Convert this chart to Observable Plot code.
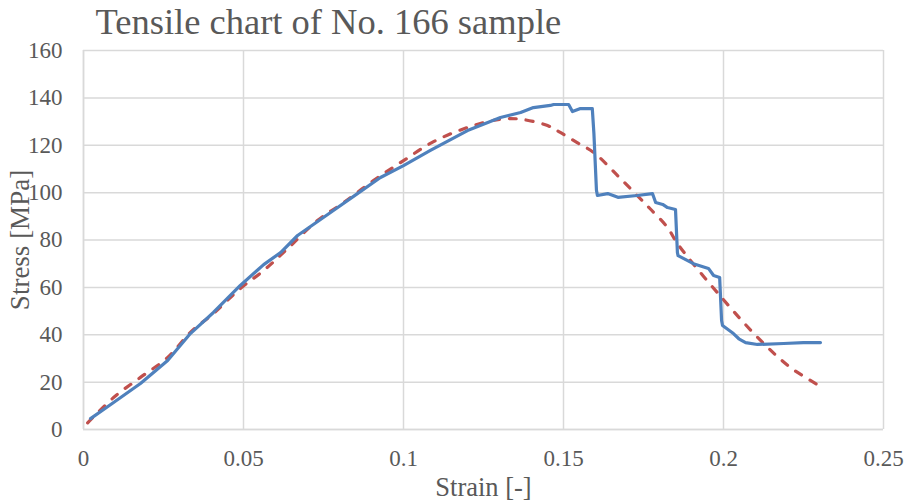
<!DOCTYPE html>
<html>
<head>
<meta charset="utf-8">
<script src="https://cdn.jsdelivr.net/npm/d3@7"></script>
<script src="https://cdn.jsdelivr.net/npm/@observablehq/plot@0.6"></script>
<style>
  html, body { margin: 0; padding: 0; background: #fff; }
</style>
</head>
<body>
<div id="chart"></div>
<script>
const titleText = "Tensile chart of No. 166 sample";
const xLabel = "Strain [-]";
const yLabel = "Stress [MPa]";
const xTicks = [0, 0.05, 0.1, 0.15, 0.2, 0.25];
const xTickLabels = ["0", "0.05", "0.1", "0.15", "0.2", "0.25"];
const yTicks = [0, 20, 40, 60, 80, 100, 120, 140, 160];

// measured curve (blue)
const measuredStrain = [0.0022, 0.0094, 0.0178, 0.0263, 0.0334, 0.0406, 0.049, 0.0563, 0.0616, 0.0669, 0.0772, 0.0856, 0.0928, 0.1, 0.1084, 0.12, 0.1303, 0.1366, 0.1406, 0.1459, 0.1469, 0.1516, 0.1528, 0.1553, 0.159, 0.1595, 0.1603, 0.1606, 0.1638, 0.167, 0.173, 0.1778, 0.1788, 0.181, 0.1825, 0.185, 0.1856, 0.1858, 0.1906, 0.1953, 0.1969, 0.1988, 0.1994, 0.1997, 0.2031, 0.2048, 0.2069, 0.2106, 0.2188, 0.225, 0.2303];
const measuredStress = [4.6, 11.4, 19.4, 29.1, 40.5, 49.4, 60.8, 69.6, 74.7, 81.9, 91.6, 99.6, 106.4, 111.4, 117.8, 126.2, 131.7, 133.8, 135.9, 136.8, 137.2, 137.2, 134.2, 135.5, 135.5, 125, 101, 98.8, 99.6, 98, 98.8, 99.6, 95.8, 95, 93.7, 92.9, 74.7, 73.4, 70, 68, 65, 64.2, 46, 43.9, 40.5, 38.3, 36.7, 35.9, 36.3, 36.7, 36.7];

// fitted trend (red dashed)
const fitStrain = [0.0013, 0.0094, 0.0178, 0.0263, 0.0334, 0.0406, 0.049, 0.0563, 0.0638, 0.0731, 0.0813, 0.0906, 0.1, 0.1094, 0.12, 0.1303, 0.1366, 0.145, 0.149, 0.1544, 0.1594, 0.1669, 0.173, 0.177, 0.1825, 0.1856, 0.1994, 0.2116, 0.2209, 0.2303];
const fitStress = [2.8, 13.5, 22, 30.4, 41, 49, 59.5, 67.1, 76.4, 88.2, 95.8, 105.1, 113.5, 121.5, 127.5, 131, 131, 128.3, 125.4, 121, 117, 107.2, 98.8, 93.3, 85.3, 78.5, 55.7, 37.6, 26.2, 18.2];

const measured = measuredStrain.map((x, i) => ({x, y: measuredStress[i]}));
const fit = fitStrain.map((x, i) => ({x, y: fitStress[i]}));

const textColor = "#595959";
const gridColor = "#d9d9d9";

const chart = Plot.plot({
  width: 912,
  height: 504,
  marginLeft: 83,
  marginRight: 29,
  marginTop: 50,
  marginBottom: 75,
  style: {fontFamily: "'Liberation Serif', 'Times New Roman', serif", fontSize: "23px", color: textColor, background: "#fff"},
  x: {domain: [0, 0.25]},
  y: {domain: [0, 160]},
  marks: [
    Plot.gridX(xTicks, {stroke: gridColor, strokeOpacity: 1, strokeWidth: 1.5}),
    Plot.gridY(yTicks, {stroke: gridColor, strokeOpacity: 1, strokeWidth: 1.5}),
    Plot.ruleX([0], {stroke: gridColor, strokeWidth: 1.5}),
    Plot.ruleY([0], {stroke: gridColor, strokeWidth: 1.5}),
    Plot.axisX(xTicks, {tickSize: 0, tickPadding: 20, tickFormat: (d, i) => xTickLabels[i], label: null, fill: textColor, fontSize: 23}),
    Plot.axisY(yTicks, {tickSize: 0, tickPadding: 21, label: null, fill: textColor, fontSize: 23}),
    Plot.line(fit, {x: "x", y: "y", stroke: "#c0504d", strokeWidth: 3.2, strokeDasharray: "7,10", strokeLinecap: "round", curve: "catmull-rom"}),
    Plot.line(measured, {x: "x", y: "y", stroke: "#4f81bd", strokeWidth: 3.2, strokeLinejoin: "round"}),
    Plot.text([titleText], {frameAnchor: "top-left", dx: 12, dy: -17, text: d => d, fontSize: 36.5, fill: textColor, textAnchor: "start", lineAnchor: "bottom"}),
    Plot.text([yLabel], {frameAnchor: "left", dx: -63, rotate: -90, text: d => d, fontSize: 27, fill: textColor, textAnchor: "middle", lineAnchor: "middle"}),
    Plot.text([xLabel], {frameAnchor: "bottom", dy: 58, text: d => d, fontSize: 26.5, fill: textColor, textAnchor: "middle", lineAnchor: "middle"})
  ]
});
document.getElementById("chart").appendChild(chart);
</script>
</body>
</html>
